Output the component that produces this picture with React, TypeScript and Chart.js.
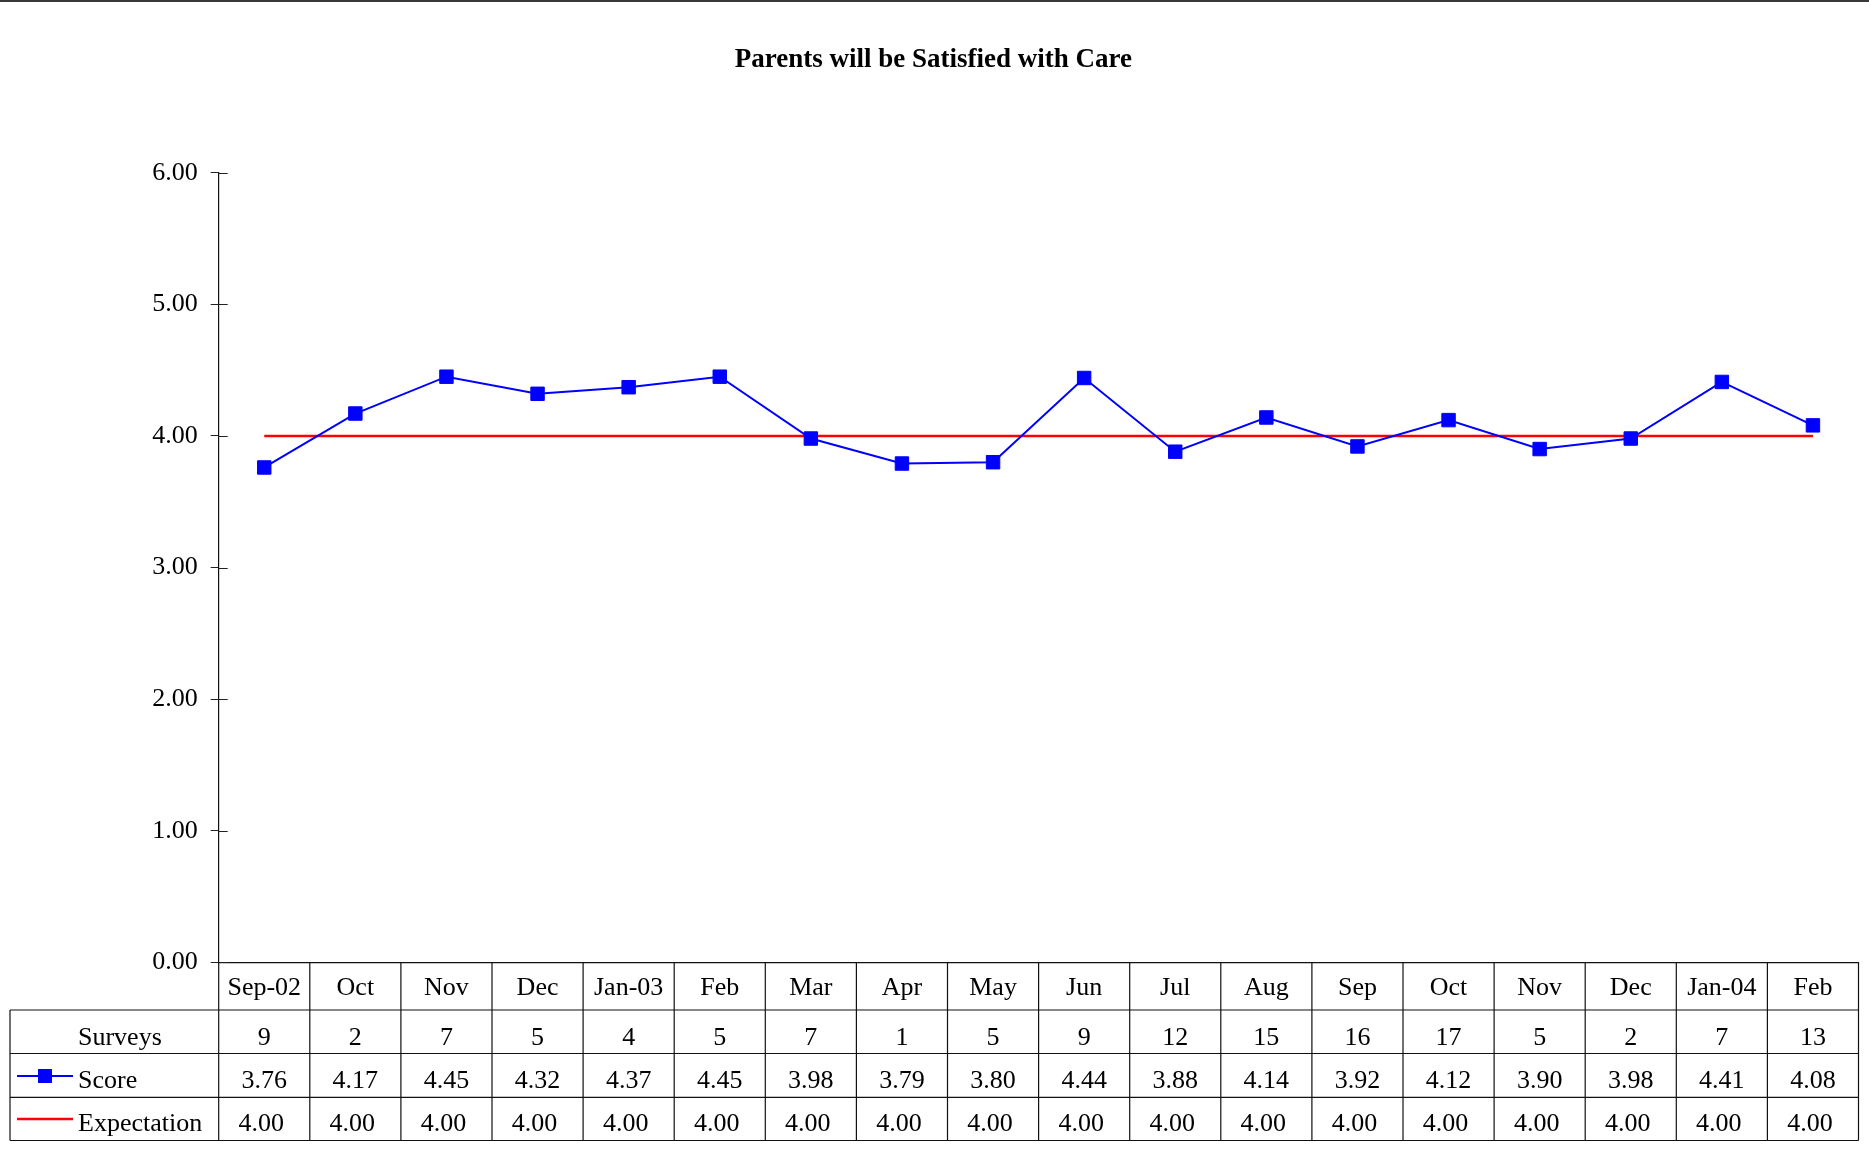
import React, { useEffect, useRef } from "react";
import { Chart, registerables } from "chart.js";

Chart.register(...registerables);

const TITLE = "Parents will be Satisfied with Care";
const MONTHS = ["Sep-02", "Oct", "Nov", "Dec", "Jan-03", "Feb", "Mar", "Apr", "May", "Jun", "Jul", "Aug", "Sep", "Oct", "Nov", "Dec", "Jan-04", "Feb"];
const SURVEYS = [9, 2, 7, 5, 4, 5, 7, 1, 5, 9, 12, 15, 16, 17, 5, 2, 7, 13];
const SCORE = [3.76, 4.17, 4.45, 4.32, 4.37, 4.45, 3.98, 3.79, 3.8, 4.44, 3.88, 4.14, 3.92, 4.12, 3.9, 3.98, 4.41, 4.08];
const EXPECTATION = [4, 4, 4, 4, 4, 4, 4, 4, 4, 4, 4, 4, 4, 4, 4, 4, 4, 4];
const ROW_LABELS = ["Surveys", "Score", "Expectation"];
const Y_MIN = 0;
const Y_MAX = 6;
const Y_STEP = 1;

const FONT = "'Liberation Serif', 'Times New Roman', serif";

const tablePlugin = {
  id: "dataTable",
  afterDraw(chart: any) {
    const { ctx, chartArea, scales } = chart;
    const x = scales.x;
    const y = scales.y;
    const n = MONTHS.length;
    const colW = (chartArea.right - chartArea.left) / n;
    const tableLeft = 10;
    const rowLines = [1010, 1053.5, 1097.3, 1140.5];
    const headTop = chartArea.bottom;
    ctx.save();

    // inner half of y ticks
    ctx.strokeStyle = "#222";
    ctx.lineWidth = 1;
    for (let v = Y_MIN; v <= Y_MAX; v += Y_STEP) {
      const py = Math.round(y.getPixelForValue(v)) + 0.5;
      ctx.beginPath();
      ctx.moveTo(chartArea.left, py);
      ctx.lineTo(chartArea.left + 9, py);
      ctx.stroke();
    }

    // table grid
    ctx.strokeStyle = "#111";
    ctx.lineWidth = 1.2;
    for (let i = 0; i <= n; i++) {
      const bx = i === n ? x.getPixelForValue(n - 1) + colW / 2 : x.getPixelForValue(i) - colW / 2;
      ctx.beginPath();
      ctx.moveTo(bx, headTop);
      ctx.lineTo(bx, rowLines[3]);
      ctx.stroke();
    }
    rowLines.forEach((ry) => {
      ctx.beginPath();
      ctx.moveTo(tableLeft, ry);
      ctx.lineTo(chartArea.right, ry);
      ctx.stroke();
    });
    ctx.beginPath();
    ctx.moveTo(tableLeft, rowLines[0]);
    ctx.lineTo(tableLeft, rowLines[3]);
    ctx.stroke();

    // text
    ctx.fillStyle = "#000";
    ctx.font = `26px ${FONT}`;
    ctx.textBaseline = "middle";
    const rowY = [1038.5, 1081.2, 1124.5];
    ctx.textAlign = "left";
    ROW_LABELS.forEach((lab, r) => ctx.fillText(lab, 78, rowY[r]));
    ctx.textAlign = "center";
    for (let i = 0; i < n; i++) {
      const cx = x.getPixelForValue(i);
      ctx.fillText(String(SURVEYS[i]), cx, rowY[0]);
      ctx.fillText(SCORE[i].toFixed(2), cx, rowY[1]);
      ctx.fillText(EXPECTATION[i].toFixed(2), cx - 3, rowY[2]);
    }

    // legend keys
    ctx.strokeStyle = "#0000ff";
    ctx.lineWidth = 2;
    ctx.beginPath();
    ctx.moveTo(17, 1076);
    ctx.lineTo(73, 1076);
    ctx.stroke();
    ctx.fillStyle = "#0000ff";
    ctx.fillRect(38, 1069, 14, 14);
    ctx.strokeStyle = "#ff0000";
    ctx.lineWidth = 2.5;
    ctx.beginPath();
    ctx.moveTo(17, 1119);
    ctx.lineTo(73, 1119);
    ctx.stroke();
    ctx.restore();
  },
};

export default function App() {
  const ref = useRef<HTMLCanvasElement | null>(null);
  useEffect(() => {
    if (!ref.current) return;
    const chart = new Chart(ref.current, {
      type: "line",
      data: {
        labels: MONTHS,
        datasets: [
          {
            label: "Score",
            data: SCORE,
            borderColor: "#0000ff",
            backgroundColor: "#0000ff",
            borderWidth: 2,
            pointStyle: "rect",
            pointRadius: 9.5,
            pointBorderWidth: 1,
            tension: 0,
          },
          {
            label: "Expectation",
            data: EXPECTATION,
            borderColor: "#ff0000",
            backgroundColor: "#ff0000",
            borderWidth: 2.5,
            pointRadius: 0,
            tension: 0,
          },
        ],
      },
      options: {
        responsive: false,
        animation: false,
        layout: { padding: { left: 8, right: 10.3, top: 0, bottom: 0 } },
        plugins: {
          legend: { display: false },
          tooltip: { enabled: false },
          title: {
            display: true,
            text: TITLE,
            color: "#000",
            font: { family: FONT, size: 27, weight: "bold" },
            padding: { top: 43.4, bottom: 96.9 },
          },
        },
        scales: {
          x: {
            type: "category",
            offset: true,
            grid: { display: false, drawTicks: false },
            border: { display: true, color: "#111", width: 1.2 },
            ticks: {
              autoSkip: false,
              maxRotation: 0,
              minRotation: 0,
              color: "#000",
              font: { family: FONT, size: 26 },
              padding: 10.5,
            },
            afterFit: (s: any) => {
              s.height = 187.7;
            },
          },
          y: {
            min: Y_MIN,
            max: Y_MAX,
            ticks: {
              stepSize: Y_STEP,
              color: "#000",
              font: { family: FONT, size: 26 },
              padding: 13,
              callback: (v: any) => Number(v).toFixed(2),
            },
            grid: { drawOnChartArea: false, tickLength: 8, color: "#222" },
            border: { color: "#111", width: 1.2 },
            afterFit: (s: any) => {
              s.width = 210.7;
            },
          },
        },
      },
      plugins: [tablePlugin],
    });
    return () => chart.destroy();
  }, []);

  return (
    <div style={{ position: "fixed", left: 0, top: 0, width: 1869, height: 1150, background: "#fff" }}>
      <canvas ref={ref} width={1869} height={1150} style={{ display: "block", width: 1869, height: 1150 }} />
      <div style={{ position: "absolute", left: 0, top: 0, width: 1869, height: 2, background: "#3a3a3a" }} />
    </div>
  );
}
